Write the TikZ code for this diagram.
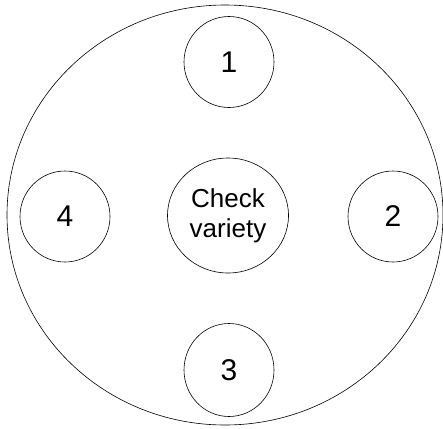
\documentclass[tikz,border=0pt]{standalone}
\usepackage{fontspec}
\setmainfont{Liberation Sans}
\usetikzlibrary{shapes.geometric}
\begin{document}
\begin{tikzpicture}[x=1pt, y=1pt, line width=0.6pt,
  plot/.style={draw, ellipse, inner sep=0pt, minimum width=90pt, minimum height=91pt, font=\fontsize{30}{32}\selectfont},
  check/.style={draw, ellipse, inner sep=0pt, align=center, minimum width=121pt, minimum height=115pt, font=\fontsize{26}{30}\selectfont}]
\useasboundingbox (0,0) rectangle (443,-428);
\node[draw, ellipse, inner sep=0pt, minimum width=436pt, minimum height=420pt] (field) at (225,-215) {};
\node[check] (c) at (228,-215.5) {Check\\variety};
\node[plot] (p1) at (229,-62) {1};
\node[plot] (p2) at (393,-216.5) {2};
\node[plot, minimum height=93pt] (p3) at (229,-370) {3};
\node[plot] (p4) at (65,-216.5) {4};
\end{tikzpicture}
\end{document}
